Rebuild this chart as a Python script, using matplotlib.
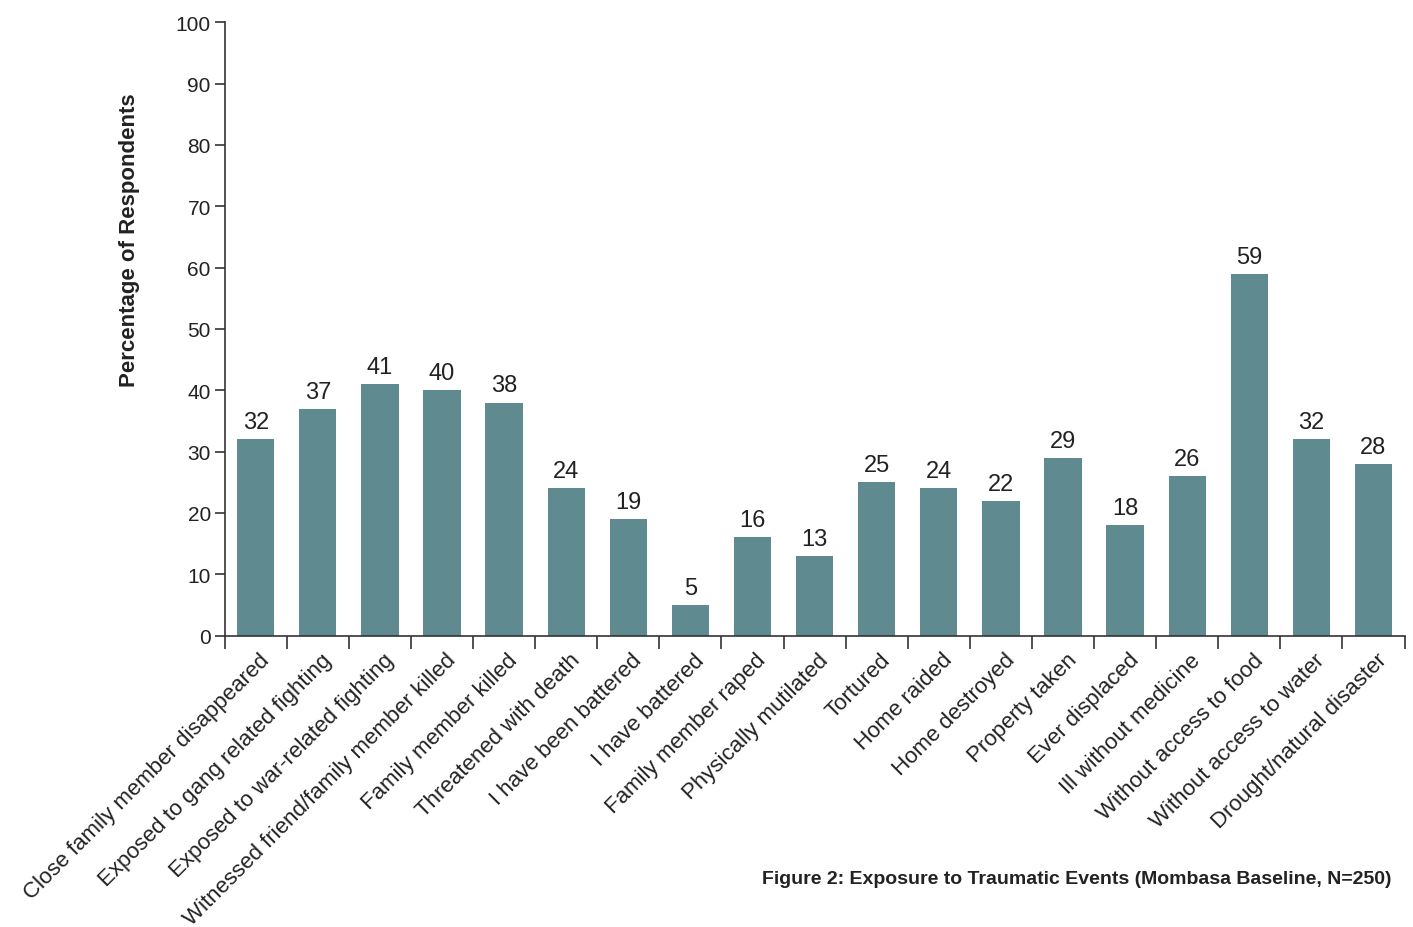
import numpy as np
import matplotlib
matplotlib.use("Agg")
import matplotlib.pyplot as plt

plt.rcParams['font.family'] = ['Liberation Sans', 'DejaVu Sans']

categories = [
    "Close family member disappeared",
    "Exposed to gang related fighting",
    "Exposed to war-related fighting",
    "Witnessed friend/family member killed",
    "Family member killed",
    "Threatened with death",
    "I have been battered",
    "I have battered",
    "Family member raped",
    "Physically mutilated",
    "Tortured",
    "Home raided",
    "Home destroyed",
    "Property taken",
    "Ever displaced",
    "Ill without medicine",
    "Without access to food",
    "Without access to water",
    "Drought/natural disaster",
]
percent = [32, 37, 41, 40, 38, 24, 19, 5, 16, 13, 25, 24, 22, 29, 18, 26, 59, 32, 28]
y_ticks = list(range(0, 101, 10))

bar_color = "#5f8a90"
axis_color = "#333333"

fig = plt.figure(figsize=(14.13, 9.28), dpi=100)
ax = fig.add_axes([0.159, 0.314, 0.835, 0.661])

x = np.arange(len(categories))
ax.bar(x, percent, width=0.6, color=bar_color)

for xi, v in zip(x, percent):
    ax.text(xi, v + 1.0, str(v), ha="center", va="bottom", fontsize=17, color="#222222")

ax.set_xlim(-0.5, len(categories) - 0.5)
ax.set_ylim(0, 100)
ax.set_yticks(y_ticks)
ax.tick_params(axis="y", labelsize=15, length=7, width=1.2, color=axis_color, labelcolor="#222222", pad=3)

# ticks sit on category boundaries, labels at bar centres
ax.set_xticks(np.arange(len(categories) + 1) - 0.5)
ax.set_xticklabels([])
ax.tick_params(axis="x", length=9, width=1.2, color=axis_color)
for xi, name in zip(x, categories):
    ax.text(xi + 0.05, -2.2, name, rotation=45, rotation_mode="anchor",
            ha="right", va="top", fontsize=16, color="#222222")

for side in ["top", "right"]:
    ax.spines[side].set_visible(False)
for side in ["left", "bottom"]:
    ax.spines[side].set_color(axis_color)
    ax.spines[side].set_linewidth(1.2)

ax.set_ylabel("Percentage of Respondents", fontsize=16, fontweight="bold", color="#222222")
ax.yaxis.set_label_coords(-0.072, 0.647)

fig.text(0.985, 0.052, "Figure 2: Exposure to Traumatic Events (Mombasa Baseline, N=250)",
         ha="right", va="center", fontsize=14, fontweight="bold", color="#222222",
         family=["Liberation Sans Narrow", "Liberation Sans"])

fig.savefig("out.png", dpi=100)
